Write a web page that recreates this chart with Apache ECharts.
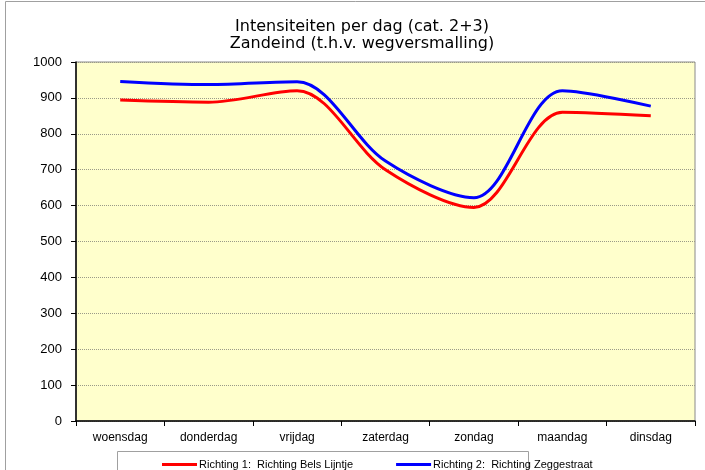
<!DOCTYPE html>
<html>
  <head>
    <meta charset="UTF-8">
    <script src="https://cdn.jsdelivr.net/npm/echarts@6/dist/echarts.min.js"></script>
    <title>Intensiteiten per dag</title>
  </head>
  <body style="margin:0;background:#fff;">
    <div id="main" style="width:705px;height:470px;"></div>
    <script type="text/javascript">
      // days of the week (x axis)
      var days = ['woensdag', 'donderdag', 'vrijdag', 'zaterdag', 'zondag', 'maandag', 'dinsdag'];
      // values
      var richting1 = [894, 888, 920, 700, 595, 860, 850];
      var richting2 = [946, 937, 945, 724, 622, 920, 877];
      var name1 = 'Richting 1:  Richting Bels Lijntje';
      var name2 = 'Richting 2:  Richting Zeggestraat';

      var myChart = echarts.init(document.getElementById('main'));

      var font = 'Liberation Sans, Arial, sans-serif';

      var option = {
        animation: false,
        title: {
          text: 'Intensiteiten per dag (cat. 2+3)\nZandeind (t.h.v. wegversmalling)',
          left: 357,
          textAlign: 'center',
          top: 13,
          textStyle: { fontFamily: 'DejaVu Sans, sans-serif', fontSize: 16, fontWeight: 'normal', color: '#000', lineHeight: 17 }
        },
        legend: {
          left: 157,
          top: 454,
          icon: 'rect',
          itemWidth: 35,
          itemHeight: 3,
          itemGap: 43,
          textStyle: { fontFamily: font, fontSize: 11, color: '#000', padding: [0, 0, 0, -3] },
          data: [name1, name2]
        },
        grid: {
          left: 76, right: 10, top: 62, bottom: 49,
          show: true,
          backgroundColor: '#FFFFCC',
          borderColor: '#8a8a8a',
          borderWidth: 1
        },
        xAxis: {
          type: 'category',
          data: days,
          boundaryGap: true,
          axisLine: { lineStyle: { color: '#000', width: 1.5 } },
          axisTick: { show: true, length: 5, lineStyle: { color: '#000' } },
          axisLabel: { fontFamily: font, fontSize: 12, color: '#000', margin: 11 }
        },
        yAxis: {
          type: 'value',
          min: 0,
          max: 1000,
          interval: 100,
          axisLine: { show: true, lineStyle: { color: '#000', width: 1.5 } },
          axisTick: { show: true, length: 5, lineStyle: { color: '#000' } },
          axisLabel: { fontFamily: font, fontSize: 13, color: '#000', margin: 14, formatter: function (v) { return String(v); } },
          splitLine: { lineStyle: { color: '#9a9a88', type: 'dotted', width: 1 } }
        },
        graphic: [
          {
            type: 'rect',
            shape: { x: 5.5, y: 1.5, width: 760, height: 520 },
            style: { fill: 'none', stroke: '#a0a0a0', lineWidth: 1 },
            silent: true
          },
          {
            type: 'rect',
            shape: { x: 117.5, y: 451.5, width: 411, height: 40 },
            style: { fill: '#fff', stroke: '#a0a0a0', lineWidth: 1 },
            z: -1,
            silent: true
          }
        ],
        series: [
          {
            name: name1,
            type: 'line',
            data: richting1,
            smooth: 0.32,
            symbol: 'none',
            itemStyle: { color: '#FF0000' },
            lineStyle: { color: '#FF0000', width: 3 }
          },
          {
            name: name2,
            type: 'line',
            data: richting2,
            smooth: 0.32,
            symbol: 'none',
            itemStyle: { color: '#0000FF' },
            lineStyle: { color: '#0000FF', width: 3 }
          }
        ]
      };

      myChart.setOption(option);
    </script>
  </body>
</html>
